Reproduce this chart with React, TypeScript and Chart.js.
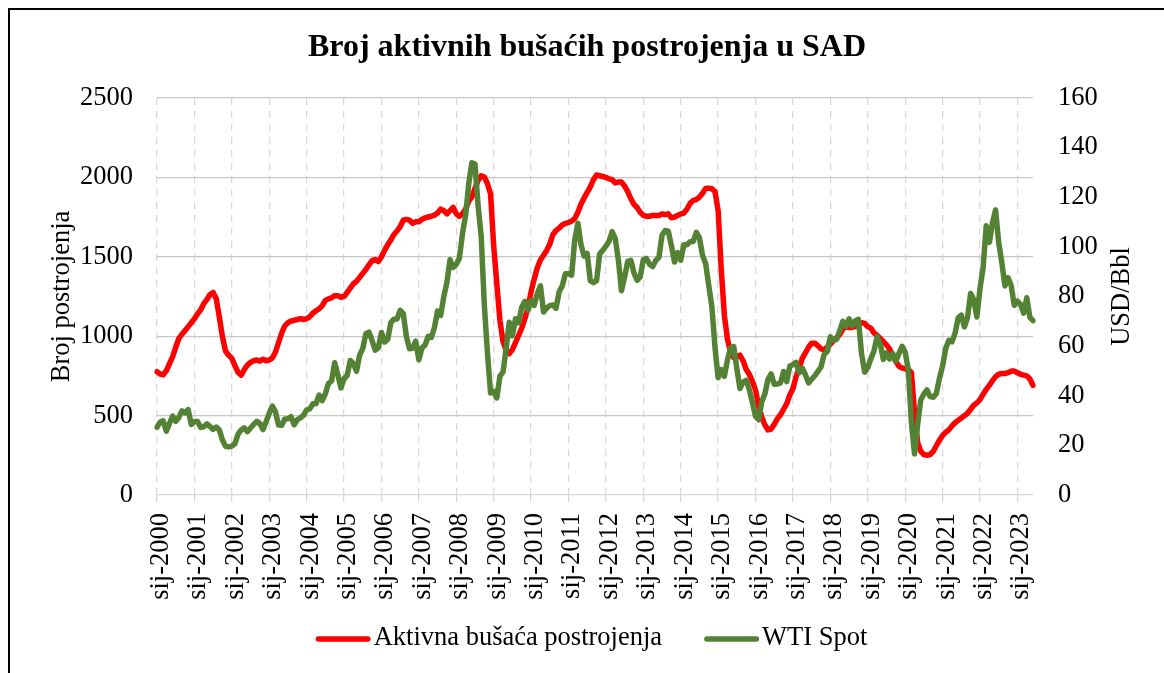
import React, { useEffect, useRef } from 'react';
import { Chart, registerables } from 'chart.js';

Chart.register(...registerables);

const FONT = "'Liberation Serif', 'Times New Roman', serif";
const TITLE = 'Broj aktivnih bušaćih postrojenja u SAD';
const LEFT_TITLE = 'Broj postrojenja';
const RIGHT_TITLE = 'USD/Bbl';
const SERIES_RIGS = 'Aktivna bušaća postrojenja';
const SERIES_WTI = 'WTI Spot';

const monthNames = ['sij', 'velj', 'ožu', 'tra', 'svi', 'lip', 'srp', 'kol', 'ruj', 'lis', 'stu', 'pro'];
const years = [2000, 2001, 2002, 2003, 2004, 2005, 2006, 2007, 2008, 2009, 2010, 2011, 2012, 2013, 2014, 2015, 2016, 2017, 2018, 2019, 2020, 2021, 2022, 2023];
const lastYearMonths = 6;
const categories: string[] = [];
years.forEach((y, yi) => {
  const n = yi === years.length - 1 ? lastYearMonths : 12;
  for (let m = 0; m < n; m++) categories.push(`${monthNames[m]}-${y}`);
});

const rigCount = [
  776, 762, 757, 782, 827, 870, 930, 985, 1012, 1035, 1060, 1084,
  1110, 1140, 1165, 1205, 1230, 1262, 1275, 1235, 1120, 995, 905, 880,
  860, 815, 772, 755, 790, 818, 835, 845, 850, 843, 855, 845,
  850, 862, 900, 960, 1020, 1065, 1085, 1095, 1100, 1105, 1110, 1105,
  1110, 1122, 1145, 1160, 1172, 1192, 1225, 1235, 1242, 1255, 1255, 1245,
  1250, 1275, 1302, 1330, 1345, 1370, 1395, 1420, 1450, 1475, 1482, 1470,
  1500, 1540, 1575, 1605, 1640, 1662, 1690, 1730, 1735, 1730, 1710, 1720,
  1720, 1735, 1745, 1750, 1755, 1762, 1775, 1800, 1790, 1770, 1790, 1810,
  1770, 1755, 1770, 1800, 1850, 1875, 1930, 1980, 2010, 2002, 1960, 1895,
  1570, 1330, 1100, 965, 912, 890, 915, 960, 1005, 1050, 1110, 1180,
  1280, 1360, 1430, 1480, 1510, 1540, 1580, 1640, 1665, 1680, 1700, 1710,
  1715, 1725, 1740, 1780, 1830, 1870, 1905, 1940, 1985, 2015, 2010, 2005,
  2000, 1990, 1985, 1965, 1970, 1970, 1945, 1910, 1865, 1830, 1810, 1780,
  1760, 1755, 1755, 1760, 1760, 1760, 1770, 1765, 1770, 1745, 1750, 1760,
  1770, 1775, 1800, 1835, 1855, 1860, 1875, 1900, 1930, 1932, 1928, 1910,
  1790, 1420, 1130, 980, 900, 865, 870, 880, 845, 790, 760, 715,
  660, 560, 490, 440, 410, 415, 445, 480, 505, 540, 575, 630,
  670, 745, 800, 860, 895, 930, 955, 955, 940, 920, 915, 930,
  950, 970, 990, 1010, 1045, 1058, 1055, 1055, 1060, 1070, 1085, 1080,
  1060, 1050, 1020, 1005, 985, 965, 945, 920, 880, 840, 810, 800,
  795, 790, 770, 520, 330, 275, 255, 250, 255, 275, 310, 345,
  375, 395, 410, 435, 455, 470, 485, 500, 515, 540, 565, 580,
  600, 635, 665, 690, 720, 745, 760, 765, 765, 770, 780, 780,
  770, 760, 755, 750, 730, 690,
];

const wtiSpot = [
  27.26, 29.37, 29.84, 25.72, 28.79, 31.82, 29.7, 31.26, 33.88, 33.11, 34.42, 28.44,
  29.59, 29.61, 27.25, 27.49, 28.63, 27.6, 26.43, 27.37, 26.2, 22.17, 19.64, 19.39,
  19.72, 20.72, 24.53, 26.18, 27.04, 25.52, 26.97, 28.39, 29.66, 28.84, 26.35, 29.46,
  32.95, 35.83, 33.51, 28.17, 28.11, 30.66, 30.75, 31.57, 28.31, 30.34, 31.11, 32.13,
  34.31, 34.69, 36.74, 36.75, 40.28, 38.03, 40.78, 44.9, 45.94, 53.28, 48.47, 43.15,
  46.84, 48.15, 54.19, 52.98, 49.83, 56.35, 59.0, 64.99, 65.59, 62.26, 58.32, 59.41,
  65.49, 61.63, 62.69, 69.44, 70.84, 70.95, 74.41, 73.04, 63.8, 58.89, 59.08, 61.96,
  54.51, 59.28, 60.44, 63.98, 63.46, 67.49, 74.12, 72.36, 79.92, 85.8, 94.77, 91.69,
  92.97, 95.39, 105.45, 112.58, 125.4, 133.88, 133.37, 116.67, 104.11, 76.61, 57.31, 41.12,
  41.71, 39.09, 47.94, 49.65, 59.03, 69.64, 64.15, 71.05, 69.41, 75.72, 77.99, 74.47,
  78.33, 76.39, 81.2, 84.29, 73.74, 75.34, 76.32, 76.6, 75.24, 81.89, 84.25, 89.15,
  89.17, 88.58, 102.86, 109.53, 100.9, 96.26, 97.3, 86.33, 85.52, 86.32, 97.16, 98.56,
  100.27, 102.2, 106.16, 103.32, 94.66, 82.3, 87.9, 94.13, 94.51, 89.49, 86.53, 87.86,
  94.76, 95.31, 92.94, 92.02, 94.51, 95.77, 104.67, 106.57, 106.29, 100.54, 93.86, 97.63,
  94.62, 100.82, 100.8, 102.07, 102.18, 105.79, 103.59, 96.54, 93.21, 84.4, 75.79, 59.29,
  47.22, 50.58, 47.82, 54.45, 59.27, 59.82, 50.9, 42.87, 45.48, 46.22, 42.44, 37.19,
  31.68, 30.32, 37.55, 40.75, 46.71, 48.76, 44.65, 44.72, 45.18, 49.78, 45.66, 51.97,
  52.5, 53.47, 49.33, 51.06, 48.48, 45.18, 46.63, 48.04, 49.82, 51.58, 56.64, 57.88,
  63.7, 62.23, 62.73, 66.25, 69.98, 67.87, 70.98, 68.06, 70.23, 70.75, 56.96, 49.52,
  51.38, 54.95, 58.15, 63.86, 60.83, 54.66, 57.35, 54.81, 56.95, 53.96, 57.03, 59.88,
  57.52, 50.54, 29.21, 16.55, 28.56, 38.31, 40.71, 42.34, 39.63, 39.4, 40.94, 47.02,
  52.0, 59.04, 62.33, 61.72, 65.17, 71.38, 72.49, 67.73, 71.54, 81.22, 78.65, 71.71,
  83.22, 91.64, 108.5, 101.78, 109.55, 114.84, 101.62, 93.67, 84.26, 87.55, 84.37, 76.44,
  78.12, 76.83, 73.28, 79.45, 71.58, 70.25,
];

const rigTicks = { min: 0, max: 2500, step: 500 };
const wtiTicks = { min: 0, max: 160, step: 20 };

const rightTitlePlugin = {
  id: 'rightTitle',
  afterDraw(chart: any) {
    const { ctx, chartArea } = chart;
    ctx.save();
    ctx.translate(chartArea.right + 89, (chartArea.top + chartArea.bottom) / 2);
    ctx.rotate(-Math.PI / 2);
    ctx.font = `26.5px ${FONT}`;
    ctx.fillStyle = '#000';
    ctx.textAlign = 'center';
    ctx.textBaseline = 'middle';
    ctx.fillText(RIGHT_TITLE, 0, 0);
    ctx.restore();
  },
};

// Legend drawn below the x axis: line sample + label for each dataset
const bottomLegendPlugin = {
  id: 'bottomLegend',
  afterDraw(chart: any) {
    const { ctx, chartArea } = chart;
    const sampleLen = 55;
    const sampleGap = 3;
    const itemGap = 42;
    ctx.save();
    ctx.font = `26.5px ${FONT}`;
    const items = chart.data.datasets.map((ds: any) => ({
      text: ds.label,
      color: ds.borderColor,
      width: ds.borderWidth,
      tw: ctx.measureText(ds.label).width,
    }));
    const total =
      items.reduce((s: number, it: any) => s + sampleLen + sampleGap + it.tw, 0) + itemGap * (items.length - 1);
    let x = chart.width / 2 + 4.5 - total / 2;
    const y = chartArea.bottom + 143;
    items.forEach((it: any) => {
      ctx.beginPath();
      ctx.lineCap = 'round';
      ctx.lineWidth = it.width;
      ctx.strokeStyle = it.color;
      ctx.moveTo(x + it.width / 2, y + 1);
      ctx.lineTo(x + sampleLen - it.width / 2, y + 1);
      ctx.stroke();
      x += sampleLen + sampleGap;
      ctx.fillStyle = '#000';
      ctx.textAlign = 'left';
      ctx.textBaseline = 'middle';
      ctx.fillText(it.text, x, y);
      x += it.tw + itemGap;
    });
    ctx.restore();
  },
};

export default function App() {
  const ref = useRef<HTMLCanvasElement | null>(null);

  useEffect(() => {
    if (!ref.current) return;
    const tickFont = { family: FONT, size: 26.5 };
    const chart = new Chart(ref.current, {
      type: 'line',
      data: {
        labels: categories,
        datasets: [
          {
            label: SERIES_RIGS,
            data: rigCount,
            borderColor: '#FF0000',
            backgroundColor: '#FF0000',
            borderWidth: 5.5,
            pointRadius: 0,
            tension: 0,
            borderCapStyle: 'round',
            borderJoinStyle: 'round',
            yAxisID: 'y',
            order: 1,
          },
          {
            label: SERIES_WTI,
            data: wtiSpot,
            borderColor: '#548235',
            backgroundColor: '#548235',
            borderWidth: 5.5,
            pointRadius: 0,
            tension: 0,
            borderCapStyle: 'round',
            borderJoinStyle: 'round',
            yAxisID: 'y1',
            order: 0,
          },
        ],
      },
      options: {
        animation: false,
        responsive: false,
        maintainAspectRatio: false,
        layout: { padding: { left: 0, right: 0, top: 0, bottom: 56 } },
        plugins: {
          title: {
            display: true,
            text: TITLE,
            color: '#000',
            font: { family: FONT, size: 32, weight: 'bold' },
            padding: { top: 18.5, bottom: 31 },
          },
          legend: { display: false },
          tooltip: { enabled: false },
        },
        scales: {
          x: {
            type: 'category',
            offset: false,
            grid: {
              color: (c: any) => (c.index % 12 === 0 ? '#d9d9d9' : 'rgba(0,0,0,0)'),
              lineWidth: 1.3,
              tickLength: 7,
              tickBorderDash: [],
              offset: false,
            },
            border: { display: false, dash: [7, 6] },
            ticks: {
              autoSkip: false,
              maxRotation: 90,
              minRotation: 90,
              padding: 11,
              labelOffset: 4,
              color: '#000',
              font: tickFont,
              callback: (_v: any, i: number) => (i % 12 === 0 ? categories[i] : ''),
            },
            afterFit: (s: any) => {
              s.height = 110;
            },
          },
          y: {
            position: 'left',
            min: rigTicks.min,
            max: rigTicks.max,
            ticks: {
              stepSize: rigTicks.step,
              padding: 24,
              color: '#000',
              font: tickFont,
              callback: (v: any) => String(v),
            },
            grid: {
              color: (c: any) => (c.tick && c.tick.value === 0 ? '#d9d9d9' : '#c8c8c8'),
              lineWidth: 1.3,
              drawTicks: false,
            },
            border: { display: false },
            title: {
              display: true,
              text: LEFT_TITLE,
              color: '#000',
              font: tickFont,
              padding: { top: 36, bottom: 0 },
            },
            afterFit: (s: any) => {
              s.width = 147;
            },
          },
          y1: {
            position: 'right',
            min: wtiTicks.min,
            max: wtiTicks.max,
            ticks: {
              stepSize: wtiTicks.step,
              padding: 25,
              color: '#000',
              font: tickFont,
              callback: (v: any) => String(v),
            },
            grid: { drawOnChartArea: false, drawTicks: false },
            border: { display: false },
            afterFit: (s: any) => {
              s.width = 131;
            },
          },
        },
      } as any,
      plugins: [rightTitlePlugin, bottomLegendPlugin],
    });
    return () => chart.destroy();
  }, []);

  return (
    <div
      style={{
        position: 'fixed',
        left: 8,
        top: 8,
        width: 1156,
        height: 665,
        boxSizing: 'border-box',
        borderTop: '2px solid #000',
        borderLeft: '2px solid #000',
        overflow: 'hidden',
        background: '#fff',
      }}
    >
      <canvas ref={ref} width={1154} height={651} style={{ display: 'block', width: 1154, height: 651 }} />
    </div>
  );
}
